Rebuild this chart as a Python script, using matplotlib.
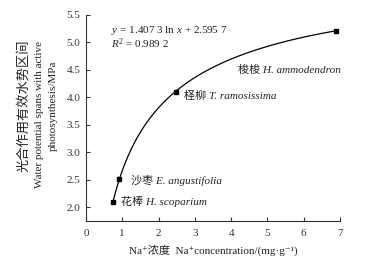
import numpy as np
import matplotlib
matplotlib.use("Agg")
import matplotlib.pyplot as plt

plt.rcParams['font.family'] = ['Liberation Serif', 'DejaVu Serif', 'Noto Sans CJK SC']
plt.rcParams['mathtext.fontset'] = 'custom'
plt.rcParams['mathtext.rm'] = 'Liberation Serif'
plt.rcParams['mathtext.it'] = 'Liberation Serif:italic'

# Na+ concentration (mg/g) and water potential span (MPa) per species
na_conc = [0.75, 0.91, 2.47, 6.88]
wp_span = [2.10, 2.51, 4.10, 5.21]
species_cn = ['花棒', '沙枣', '柽柳', '梭梭']
species_la = ['H. scoparium', 'E. angustifolia', 'T. ramosissima', 'H. ammodendron']

fig = plt.figure(figsize=(3.65, 2.64), dpi=100)
ax = fig.add_axes([0.2356, 0.163, 0.6959, 0.781])

# smooth trend through the points (fit in ln x)
coef = np.polyfit(np.log(na_conc), wp_span, 2)
xs = np.linspace(na_conc[0], na_conc[-1], 200)
ax.plot(xs, np.polyval(coef, np.log(xs)), color='black', lw=0.9)
ax.plot(na_conc, wp_span, 's', color='black', ms=3.2)

# label offsets in pixels (dx, dy) and alignment
offsets = [(8, 0, 'left'), (12, -1, 'left'), (8, -4, 'left'), (5, -39, 'right')]
for x, y, cn, la, (dx, dy, ha) in zip(na_conc, wp_span, species_cn, species_la, offsets):
    ax.annotate(cn + ' ' + la, (x, y), xytext=(dx, dy), textcoords='offset pixels',
                ha=ha, va='center', fontsize=8, style='italic', color='#222222')

ax.text(0.1, 0.924, r'$y$ = 1.407 3 ln $x$ + 2.595 7', transform=ax.transAxes,
        fontsize=8, color='#222222', va='center')
ax.text(0.1, 0.858, r'$R^2$ = 0.989 2', transform=ax.transAxes,
        fontsize=8, color='#222222', va='center')

ax.set_xlim(0, 7)
ax.set_ylim(1.75, 5.5)
ax.set_xticks(range(0, 8))
ax.set_yticks(np.arange(2.0, 5.51, 0.5))
ax.yaxis.set_major_formatter(matplotlib.ticker.FormatStrFormatter('%.1f'))
ax.tick_params(direction='in', length=3, width=0.8, labelsize=8, colors='#333333',
               pad=4)
ax.tick_params(axis='x', pad=6)
for s in ['top', 'right']:
    ax.spines[s].set_visible(False)
for s in ['left', 'bottom']:
    ax.spines[s].set_linewidth(0.8)
    ax.spines[s].set_color('#333333')

fig.text(213/365, 1 - 250/264, 'Na⁺浓度  Na⁺concentration/(mg·g⁻¹)',
         ha='center', va='center', fontsize=8, color='#222222')
fig.text(24/365, 1 - 106/264, '光合作用有效水势区间', rotation=90,
         ha='center', va='center', fontsize=9.5, color='#222222')
fig.text(40/365, 1 - 115/264, 'Water potential spans with active', rotation=90,
         ha='center', va='center', fontsize=8, color='#222222')
fig.text(53/365, 1 - 106/264, 'photosynthesis/MPa', rotation=90,
         ha='center', va='center', fontsize=8, color='#222222')

fig.savefig('out.png', dpi=100)
